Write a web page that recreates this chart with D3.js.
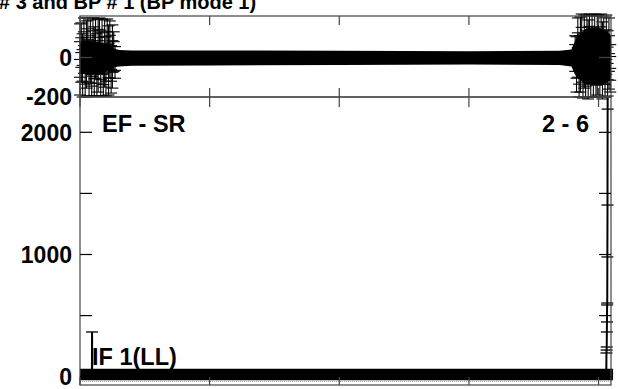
<!DOCTYPE html>
<html>
<head>
<meta charset="utf-8">
<script src="https://cdn.jsdelivr.net/npm/d3@7"></script>
<style>
  body { margin: 0; background: #fff; }
  text { font-family: "Liberation Sans", Arial, sans-serif; font-weight: bold; }
</style>
</head>
<body>
<div id="chart"></div>
<script>
// channel ticks
const xTicks = [0, 1000, 2000, 3000, 4000];
const topTickLabels = [-200, 0];
const topTickMarks = [-200, 0, 200];
const botTickLabels = [0, 1000, 2000];
const botTickMarks = [0, 500, 1000, 1500, 2000];

// upper panel: envelope of the dense noise band
const topEnvX  = [0, 60, 140, 220, 265, 300, 400, 1000, 2000, 3000, 3700, 3790, 3830, 3900, 4000, 4060, 4096];
const topEnvHi = [75, 85, 80, 65, 45, 38, 36, 36, 34, 32, 34, 40, 100, 145, 150, 135, 110];
const topEnvLo = [-75, -90, -85, -70, -50, -45, -42, -40, -38, -36, -38, -45, -100, -135, -140, -130, -105];

// upper panel: error-bar points in the bursts at both ends
const leftBurstX = [0, 10, 20, 30, 40, 50, 60, 70, 80, 90, 100, 110, 120, 130, 140, 150, 160, 170, 180, 190, 200, 210, 220, 230, 240, 250, 260, 270];
const leftBurstV = [-10, 25, -40, 60, -75, 15, 90, -55, 30, -95, 70, -20, 45, -65, 10, 85, -30, 55, -80, 20, -45, 65, -15, 40, -60, 5, 30, -25];
const leftBurstE = [180, 150, 160, 140, 120, 170, 110, 140, 160, 100, 130, 175, 150, 130, 185, 115, 165, 140, 115, 170, 150, 130, 175, 145, 120, 160, 100, 80];

const rightBurstX = [3820, 3830, 3840, 3850, 3860, 3870, 3880, 3890, 3900, 3910, 3920, 3930, 3940, 3950, 3960, 3970, 3980, 3990, 4000, 4010, 4020, 4030, 4040, 4050, 4060, 4070, 4080, 4090];
const rightBurstV = [20, -35, 50, -70, 15, 85, -45, 30, -90, 60, -10, 95, -60, 40, -25, 75, -80, 10, 55, -50, 90, -15, 35, -70, 65, -30, 20, -55];
const rightBurstE = [90, 140, 150, 130, 190, 135, 160, 185, 110, 150, 200, 125, 140, 175, 175, 145, 120, 200, 160, 150, 130, 195, 170, 130, 150, 165, 180, 120];

// lower panel: band around zero and the two spikes
const botEnvX  = [0, 1000, 2000, 3000, 4000, 4112];
const botEnvHi = [64, 64, 64, 64, 64, 64];
const botEnvLo = [-30, -30, -30, -30, -30, -30];
const botFloor = -38;

const leftSpikeX = [92, 93, 94];
const leftSpikeV = [30, 366, 30];

const rightSpikeX = [4060, 4061, 4062, 4063, 4064, 4065, 4066, 4067, 4068, 4069, 4070, 4071, 4072];
const rightSpikeV = [55, 194, 218, 243, 366, 448, 587, 603, 980, 1405, 2190, 2600, 2600];

const width = 618, height = 389;
const plot = { left: 80, right: 611, top: 16, mid: 97, bottom: 385 };

const svg = d3.select("#chart").append("svg")
    .attr("width", width)
    .attr("height", height);

const x = d3.scaleLinear().domain([0, 4096]).range([plot.left, plot.right]);
const yTop = d3.scaleLinear().domain([-200, 210]).range([plot.mid, plot.top]);
const yBot = d3.scaleLinear().domain([-68, 2289]).range([plot.bottom, plot.mid]);

// title (cut at left edge like the original)
svg.append("text")
    .attr("x", -1)
    .attr("y", 9)
    .attr("font-size", "20px")
    .text("# 3 and BP # 1 (BP mode 1)");

// ---- upper panel ----
const topG = svg.append("g");

topG.append("path")
    .datum(topEnvX.map((d, i) => [d, topEnvHi[i], topEnvLo[i]]))
    .attr("fill", "#000")
    .attr("d", d3.area()
        .x(d => x(d[0]))
        .y0(d => yTop(d[2]))
        .y1(d => yTop(d[1])));

function errorBars(g, xs, vs, es, yScale) {
    const pts = xs.map((d, i) => ({ x: d, v: vs[i], e: es[i] }));
    const cap = 6;
    const p = g.append("g").attr("stroke", "#000").attr("stroke-width", 1.1);
    pts.forEach(d => {
        const cx = x(d.x);
        p.append("line")
            .attr("x1", cx).attr("x2", cx)
            .attr("y1", yScale(d.v - d.e)).attr("y2", yScale(d.v + d.e));
        [d.v - d.e, d.v - d.e / 2, d.v, d.v + d.e / 2, d.v + d.e].forEach(val => {
            p.append("line")
                .attr("x1", cx - cap).attr("x2", cx + cap)
                .attr("y1", yScale(val)).attr("y2", yScale(val));
        });
    });
}

errorBars(topG, leftBurstX, leftBurstV, leftBurstE, yTop);
errorBars(topG, rightBurstX, rightBurstV, rightBurstE, yTop);

// ---- lower panel ----
svg.append("clipPath").attr("id", "botClip")
    .append("rect")
    .attr("x", plot.left - 10).attr("y", plot.mid)
    .attr("width", width - plot.left + 10).attr("height", plot.bottom - plot.mid);

const botG = svg.append("g").attr("clip-path", "url(#botClip)");

botG.append("path")
    .datum(botEnvX.map((d, i) => [d, botEnvHi[i], botEnvLo[i]]))
    .attr("fill", "#000")
    .attr("d", d3.area()
        .x(d => x(d[0]))
        .y0(d => yBot(d[2]))
        .y1(d => yBot(d[1])));

botG.append("line")
    .attr("x1", x(0)).attr("x2", x(4096))
    .attr("y1", yBot(botFloor)).attr("y2", yBot(botFloor))
    .attr("stroke", "#999")
    .attr("stroke-dasharray", "1,1");

function spike(g, xs, vs) {
    const pts = xs.map((d, i) => [d, vs[i]]);
    g.append("path")
        .datum(pts)
        .attr("fill", "none")
        .attr("stroke", "#000")
        .attr("stroke-width", 2)
        .attr("d", d3.line().x(d => x(d[0])).y(d => yBot(d[1])));
    g.selectAll(null)
        .data(pts)
        .join("line")
        .attr("x1", d => x(d[0]) - 6)
        .attr("x2", d => x(d[0]) + 6)
        .attr("y1", d => yBot(d[1]))
        .attr("y2", d => yBot(d[1]))
        .attr("stroke", "#000")
        .attr("stroke-width", 1.3);
}

spike(botG, leftSpikeX, leftSpikeV);
spike(botG, rightSpikeX, rightSpikeV);

// ---- frames and ticks ----
const frame = svg.append("g").attr("stroke", "#444").attr("fill", "none").attr("stroke-width", 1.2);
frame.append("rect")
    .attr("x", plot.left).attr("y", plot.top)
    .attr("width", plot.right - plot.left).attr("height", plot.mid - plot.top);
frame.append("rect")
    .attr("x", plot.left).attr("y", plot.mid)
    .attr("width", plot.right - plot.left).attr("height", plot.bottom - plot.mid);

xTicks.forEach(t => {
    const tx = x(t);
    [[plot.top, plot.top + 9], [plot.mid - 9, plot.mid + 10], [plot.bottom - 8, plot.bottom]].forEach(([a, b]) => {
        frame.append("line").attr("x1", tx).attr("x2", tx).attr("y1", a).attr("y2", b);
    });
});

topTickMarks.forEach(t => {
    frame.append("line").attr("x1", plot.left).attr("x2", plot.left + 12)
        .attr("y1", yTop(t)).attr("y2", yTop(t));
    frame.append("line").attr("x1", plot.right - 12).attr("x2", plot.right)
        .attr("y1", yTop(t)).attr("y2", yTop(t));
});

botTickMarks.forEach(t => {
    frame.append("line").attr("x1", plot.left).attr("x2", plot.left + 12)
        .attr("y1", yBot(t)).attr("y2", yBot(t)).attr("stroke", "#000");
    frame.append("line").attr("x1", plot.right - 12).attr("x2", plot.right)
        .attr("y1", yBot(t)).attr("y2", yBot(t)).attr("stroke", "#000");
});

// tick labels
const labels = svg.append("g")
    .attr("font-size", "23px")
    .attr("text-anchor", "end");

topTickLabels.forEach(t => {
    labels.append("text")
        .attr("x", 72).attr("y", yTop(t)).attr("dy", "0.36em")
        .text(t);
});
botTickLabels.forEach(t => {
    labels.append("text")
        .attr("x", 72).attr("y", yBot(t)).attr("dy", "0.36em")
        .text(t);
});

// panel annotations
svg.append("text").attr("x", 102).attr("y", 132).attr("font-size", "23.5px").text("EF - SR");
svg.append("text").attr("x", 589).attr("y", 132).attr("font-size", "23.5px")
    .attr("text-anchor", "end").text("2 - 6");
svg.append("text").attr("x", 92).attr("y", 365).attr("font-size", "23.5px").text("IF 1(LL)");
</script>
</body>
</html>
